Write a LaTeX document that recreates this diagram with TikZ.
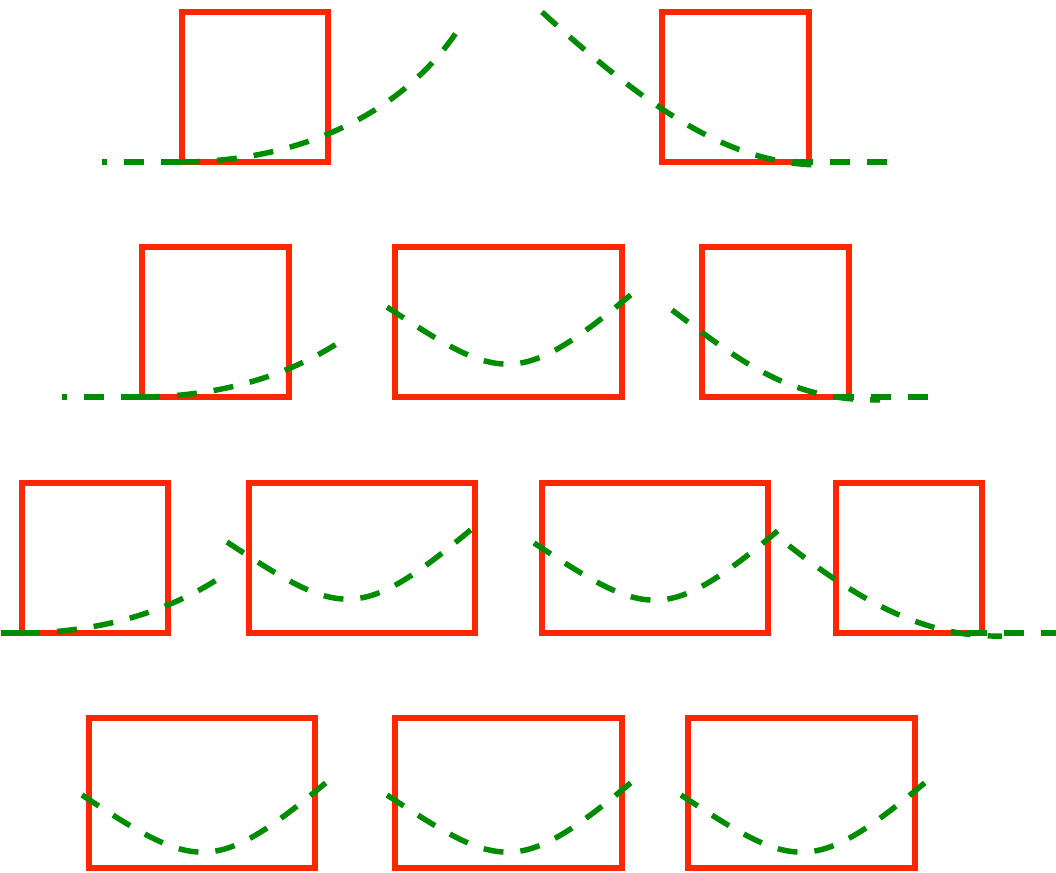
\documentclass[tikz,border=0pt]{standalone}
\definecolor{boxred}{RGB}{255,38,0}
\definecolor{curvegreen}{RGB}{0,140,0}
\newcommand{\parabAt}[2]{\begin{scope}[shift={(#1,#2)}]\draw[gline] (0,0) .. controls (114,75) and (131,82) .. (246,-14);\end{scope}}
\begin{document}
\begin{tikzpicture}[x=0.75pt,y=-0.75pt,
  redbox/.style={draw=boxred,line width=4.1pt},
  gline/.style={draw=curvegreen,line width=4.1pt,dash pattern=on 15pt off 12.75pt}]
\useasboundingbox (0,0) rectangle (1056,873);
\clip (0,0) rectangle (1056,873);
% ---- boxes ----
% row 1
\draw[redbox] (182,12) rectangle (328,162);
\draw[redbox] (662,12) rectangle (809,162);
% row 2
\draw[redbox] (142,247) rectangle (289,397);
\draw[redbox] (395,247) rectangle (622,397);
\draw[redbox] (702,247) rectangle (849,397);
% row 3
\draw[redbox] (22,483) rectangle (168,633);
\draw[redbox] (249,483) rectangle (475,633);
\draw[redbox] (542,483) rectangle (768,633);
\draw[redbox] (836,483) rectangle (982,633);
% row 4
\draw[redbox] (89,718) rectangle (315,868);
\draw[redbox] (395,718) rectangle (622,868);
\draw[redbox] (688,718) rectangle (915,868);
% ---- left tails ----
\draw[gline,dash phase=11.25pt] (102,162) -- (190,162);
\draw[gline] (180,162) .. controls (290,162) and (398,120) .. (458,30);
\begin{scope}[shift={(-40,235)}]
  \draw[gline,dash phase=11.25pt] (102,162) -- (190,162);
  \draw[gline] (180,162) .. controls (252.6,162) and (324.3,143.7) .. (382,105.4);
\end{scope}
\begin{scope}[shift={(-160,471)}]
  \draw[gline,dash phase=11.25pt] (102,162) -- (190,162);
  \draw[gline] (180,162) .. controls (252.6,162) and (324.3,143.7) .. (382,105.4);
\end{scope}
% ---- right tails ----
\draw[gline] (793,162) -- (888,162);
\draw[gline] (542,12) .. controls (660,120) and (740,167) .. (828,165);
\draw[gline] (834,397) -- (928,397);
\draw[gline] (672,310) .. controls (742,362.5) and (790,401) .. (880,400);
\begin{scope}[shift={(174,471)}]
  \draw[gline] (793,162) -- (910,162);
  \draw[gline] (614.9,74.6) .. controls (695.6,138.3) and (759.4,166.6) .. (828,165);
\end{scope}
% ---- parabolas ----
\parabAt{387}{307}
\parabAt{227}{542}
\parabAt{534}{543}
\parabAt{82}{795}
\parabAt{387}{795}
\parabAt{681}{795}
\end{tikzpicture}
\end{document}
